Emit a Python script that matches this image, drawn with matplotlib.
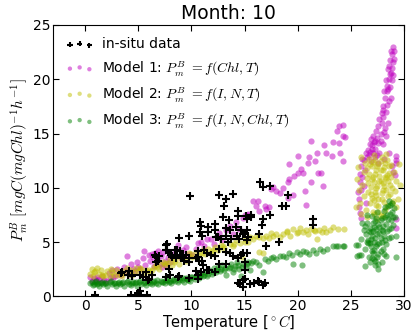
import matplotlib
matplotlib.use('Agg')
import matplotlib.pyplot as plt

# in-situ observations (temperature, P_m^B)
insitu_t = [0.9, 4.3, 5.0, 5.1, 5.15, 5.8, 3.4, 3.5, 4.1, 4.0, 4.4, 4.45, 5.15, 5.4, 5.7, 5.95,
            6.0, 6.3, 6.6, 6.7, 6.7, 6.9, 6.95, 7.6, 7.6, 7.7, 7.7, 7.6, 7.9, 7.9, 8.0, 8.05,
            8.2, 8.5, 8.5, 8.55, 8.65, 8.7, 8.8, 8.8, 8.9, 9.0, 9.2, 9.3, 9.5, 9.75, 9.8, 9.8,
            9.8, 9.8, 9.9, 10.4, 10.4, 10.6, 10.6, 10.6, 10.6, 10.75, 10.8, 10.8, 10.9, 10.9,
            11.0, 11.0, 11.1, 11.2, 11.5, 11.5, 11.6, 11.6, 11.7, 11.85, 12.2, 12.2, 12.2, 12.2,
            12.3, 12.5, 12.6, 12.6, 12.6, 12.8, 12.95, 13.1, 13.3, 13.3, 13.3, 13.3, 13.3, 13.4,
            13.5, 13.6, 13.6, 13.7, 13.9, 13.9, 14.2, 14.3, 14.4, 14.4, 14.4, 14.4, 14.5, 14.6,
            14.7, 14.7, 14.85, 14.85, 14.85, 14.9, 15.0, 15.0, 15.0, 15.0, 15.1, 15.2, 15.2,
            15.2, 15.2, 15.3, 15.5, 15.6, 15.6, 15.9, 16.3, 16.35, 16.4, 16.5, 16.6, 16.7, 16.7,
            16.7, 16.9, 17.0, 17.4, 17.4, 18.2, 18.5, 18.9, 19.1, 21.4, 21.4]
insitu_p = [0.15, 0.1, 0.3, 0.1, 0.45, 0.1, 2.15, 2.2, 2.35, 1.95, 1.85, 1.95, 1.95, 1.75, 2.2, 1.55,
            1.6, 2.0, 3.8, 3.6, 3.2, 3.25, 3.7, 4.7, 4.25, 4.8, 4.3, 1.75, 3.95, 2.55, 2.0, 3.85,
            3.6, 4.3, 3.8, 3.5, 4.3, 1.8, 5.4, 1.85, 4.2, 3.75, 3.7, 3.3, 3.85, 1.65, 5.6, 3.2,
            3.5, 1.7, 9.25, 3.55, 2.3, 3.6, 4.15, 1.6, 1.95, 3.3, 6.85, 5.9, 6.5, 2.25,
            5.55, 3.3, 2.9, 4.25, 2.4, 3.95, 6.4, 5.9, 2.4, 3.8, 6.7, 6.1, 3.7, 2.2,
            5.5, 5.5, 9.3, 4.4, 3.0, 5.3, 7.35, 8.3, 9.0, 6.3, 5.6, 4.1, 3.0, 5.0,
            7.0, 6.1, 3.95, 5.3, 9.4, 3.7, 6.4, 5.6, 7.9, 7.4, 3.55, 1.2, 5.3, 1.1,
            6.1, 3.8, 3.95, 5.7, 0.9, 1.5, 5.8, 3.2, 2.45, 1.6, 7.4, 7.15, 5.2,
            3.95, 6.1, 5.5, 1.15, 7.5, 7.3, 1.2, 1.4, 5.7, 1.3, 10.5, 6.55, 7.1, 10.1,
            1.05, 1.25, 4.6, 10.2, 7.5, 5.0, 8.3, 8.3, 9.3, 7.15, 6.6]

# Model 1: P_m^B = f(Chl, T)
m1_t = [0.5, 0.6, 0.85, 1.0, 1.3, 1.4, 1.6, 1.8, 2.2, 2.3, 2.55, 2.8, 3.0, 3.2, 3.65, 3.9,
        3.96, 4.3, 4.5, 4.9, 5.0, 5.4, 5.5, 5.6, 6.0, 6.1, 6.3, 6.4, 6.5, 6.6, 6.8, 6.9,
        7.0, 7.1, 7.2, 7.3, 7.5, 7.6, 7.8, 8.0, 8.3, 8.7, 9.0, 9.2, 9.5, 9.8, 10.1, 10.4,
        10.6, 10.9, 11.2, 11.5, 11.85, 12.1, 12.4, 12.6, 12.9, 13.3, 13.6, 13.9, 14.2, 14.5,
        14.9, 15.2, 15.3, 15.0, 15.8, 16.1, 16.3, 16.4, 16.9, 17.0, 17.3, 17.5, 17.7, 18.0,
        18.3, 18.6, 19.1, 19.1, 19.2, 19.6, 19.7, 19.2, 20.0, 20.0, 20.3, 20.5, 20.7, 20.8,
        21.0, 21.1, 21.3, 21.3, 21.6, 21.8, 21.9, 22.2, 22.4, 22.5, 22.7, 23.2, 23.3, 23.7,
        23.9, 23.9, 24.0, 24.3, 24.3, 24.3, 24.5,
        25.7, 25.8, 26.0, 26.0, 26.2, 25.9, 26.1, 25.8, 29.3, 29.3, 29.3, 29.3, 29.0,
        26.1, 26.5, 26.6, 26.8, 26.9, 27.1, 27.1, 27.3, 27.4, 27.6, 27.7, 27.7, 27.9, 28.05,
        28.2, 28.4, 28.4, 28.6, 28.8, 28.5, 29.0, 28.7, 28.8, 29.0, 29.3, 27.0, 27.2, 27.5,
        27.8, 27.5, 28.0, 28.2, 27.9, 28.3, 28.6, 28.1, 28.7, 28.3, 28.9, 29.0, 28.6, 29.1,
        28.9, 26.7, 27.3, 26.4, 26.9, 27.6, 28.1, 28.6, 27.8, 28.3, 28.5, 28.0,
        26.3, 26.2, 26.0, 25.9, 26.4, 25.9, 28.9, 29.2, 27.0, 27.6, 28.1, 28.0, 28.4, 28.5,
        28.7, 28.9, 27.3, 26.8, 28.8, 29.1, 1.1, 2.0, 2.6, 3.4, 4.1, 4.7, 5.2]
m1_p = [1.8, 1.45, 1.65, 1.5, 1.6, 1.35, 1.9, 1.55, 2.15, 1.7, 2.4, 1.9, 2.55, 2.1, 2.7, 2.3,
        3.7, 3.0, 2.5, 3.2, 2.7, 3.5, 4.15, 2.9, 3.8, 3.3, 3.9, 3.6, 2.8, 4.0, 3.4, 4.2,
        3.0, 3.7, 2.7, 4.1, 3.3, 2.8, 3.6, 3.2, 3.9, 4.7, 3.5, 4.3, 4.55, 3.9, 3.8, 4.4,
        4.9, 5.0, 4.6, 5.3, 5.3, 4.8, 5.6, 5.8, 5.2, 6.1, 6.5, 5.7, 6.85, 6.2,
        7.2, 7.45, 7.6, 7.45, 8.8, 8.35, 8.8, 7.9, 8.35, 8.05, 8.2, 9.9, 10.05, 9.75,
        9.55, 10.0, 10.5, 9.1, 10.8, 9.3, 11.1, 12.2, 11.4, 12.9, 11.7, 11.4, 9.75, 8.4,
        12.3, 12.8, 14.3, 10.5, 12.5, 13.25, 11.4, 11.4, 10.2, 13.95, 13.25, 12.9, 14.2, 15.2,
        14.1, 15.7, 13.25, 12.5, 15.8, 14.8, 14.7,
        9.6, 9.0, 7.2, 12.0, 12.6, 10.5, 11.0, 8.2, 12.6, 12.3, 6.3, 7.15, 11.5,
        12.7, 12.8, 13.5, 14.0, 14.5, 14.8, 13.25, 13.55, 15.25, 15.7, 13.25, 16.3, 16.9, 17.55,
        18.3, 18.9, 19.35, 20.0, 20.6, 20.9, 21.6, 21.8, 22.6, 22.95, 12.9, 13.9, 14.2, 14.6,
        15.0, 13.0, 14.0, 15.5, 16.0, 17.0, 18.0, 18.9, 19.3, 19.9, 19.9, 20.4, 21.2, 21.9,
        22.3, 13.0, 12.8, 13.2, 12.5, 12.3, 12.7, 13.2, 14.3, 14.8, 16.0, 17.2,
        11.6, 10.2, 9.8, 11.3, 8.6, 7.7, 12.0, 11.2, 13.6, 14.1, 15.1, 16.5, 17.6, 19.1,
        20.5, 21.0, 14.3, 13.3, 18.3, 22.6, 1.75, 1.45, 1.8, 2.0, 2.1, 2.3, 2.5]

# Model 2: P_m^B = f(I, N, T)
m2_t = [0.5, 0.6, 0.7, 0.9, 1.1, 1.3, 1.5, 1.7, 1.9, 2.1, 2.3, 2.5, 2.7, 2.9, 3.1, 3.3,
        3.5, 3.7, 3.9, 4.1, 4.3, 4.6, 4.8, 5.0, 5.3, 5.5, 5.7, 6.0, 6.3, 6.5, 6.7, 6.95,
        7.1, 7.3, 7.5, 7.8, 8.0, 8.2, 8.5, 8.8, 9.2, 9.5, 9.8, 10.1, 10.4, 10.7, 11.1, 11.3,
        11.6, 11.9, 12.2, 12.5, 12.8, 13.1, 13.6, 13.9, 14.2, 14.6, 15.0, 15.3, 15.5, 15.8,
        16.1, 16.4, 16.7, 17.0, 17.3, 17.7, 18.0, 18.3, 18.6, 19.0, 19.3, 19.6, 19.9, 20.2,
        20.5, 20.8, 21.0, 21.3, 21.6, 21.8, 22.0, 22.3, 22.7, 23.0, 23.3, 23.8, 24.4, 16.4,
        16.7, 14.8,
        25.6, 25.7, 25.8, 25.9, 26.0, 26.1, 26.2, 26.2, 26.3, 26.4, 26.5, 26.6, 26.7, 26.7,
        26.8, 26.9, 27.0, 27.0, 27.1, 27.1, 27.2, 27.3, 27.3, 27.4, 27.4, 27.5, 27.6, 27.6,
        27.7, 27.8, 27.8, 27.9, 27.9, 28.0, 28.1, 28.1, 28.2, 28.3, 28.4, 28.4, 28.5, 28.6,
        28.7, 28.8, 28.9, 29.0, 29.1, 29.2, 29.3, 29.4, 29.5, 29.6, 26.5, 27.5, 28.0, 29.3,
        27.2, 28.3, 26.0, 25.5,
        26.5, 26.6, 26.8, 26.9, 27.0, 27.1, 27.2, 27.3, 27.4, 27.5, 27.6, 27.7, 27.8, 27.9,
        28.0, 28.1, 28.2, 28.3, 28.4, 28.5, 28.6, 28.7, 28.8, 28.9, 27.2, 27.6, 28.0, 27.4,
        27.8, 28.2, 0.8, 1.6, 2.4, 3.4, 4.4, 5.2, 6.1, 6.8, 7.6, 8.4, 9.0, 10.0, 11.0, 12.0,
        13.0, 14.0, 15.0, 17.5, 19.0, 20.0, 21.5, 22.5]
m2_p = [2.1, 2.5, 1.9, 2.3, 2.6, 2.1, 2.4, 1.85, 1.95, 2.3, 1.9, 2.2, 2.0, 2.4, 1.95, 2.2,
        1.9, 2.3, 2.6, 2.1, 2.4, 2.2, 2.6, 2.3, 2.5, 2.1, 2.4, 2.4, 2.4, 2.7, 2.9, 2.55,
        3.0, 3.2, 2.9, 3.1, 3.4, 2.9, 3.35, 3.0, 3.6, 3.3, 3.95, 3.6, 4.1, 3.8, 4.25, 3.9,
        4.4, 4.1, 4.55, 4.3, 4.7, 4.5, 4.85, 4.6, 5.15, 4.9, 5.3, 5.0, 5.5, 5.3,
        5.6, 5.5, 5.35, 5.6, 5.4, 5.55, 5.7, 5.5, 5.7, 5.9, 5.6, 6.25, 5.8, 6.3,
        5.9, 6.1, 5.7, 6.25, 6.0, 5.3, 6.1, 5.9, 5.95, 6.1, 6.4, 6.25, 6.25, 4.1,
        3.95, 3.6,
        10.8, 11.9, 9.8, 8.6, 7.6, 10.3, 11.5, 9.2, 12.3, 8.0, 10.9, 9.6, 12.7, 11.3,
        8.6, 10.1, 12.0, 9.1, 11.0, 7.8, 10.5, 12.6, 9.6, 11.6, 8.4, 10.2, 12.2, 9.0,
        11.1, 7.5, 10.6, 12.8, 9.5, 11.6, 8.7, 10.2, 12.3, 9.8, 11.2, 8.3, 10.6, 12.0,
        9.4, 11.0, 10.0, 8.8, 11.5, 9.7, 10.6, 9.0, 12.2, 10.3, 7.3, 7.1, 7.4, 8.2,
        13.0, 13.1, 12.8, 8.2,
        11.8, 10.4, 12.2, 9.4, 10.8, 12.4, 8.9, 11.3, 10.0, 12.0, 8.3, 10.6, 12.5, 9.0,
        10.4, 11.9, 8.0, 10.9, 12.6, 9.2, 11.4, 10.3, 12.1, 8.6, 7.6, 7.8, 9.8, 9.3,
        11.6, 11.0, 2.2, 2.0, 2.5, 2.1, 2.0, 2.6, 2.2, 2.7, 3.1, 3.2, 3.5, 3.9, 4.0, 4.3,
        4.6, 4.8, 5.0, 5.8, 6.0, 5.9, 6.1, 6.3]

# Model 3: P_m^B = f(I, N, Chl, T)
m3_t = [0.5, 0.7, 0.9, 1.1, 1.3, 1.5, 1.7, 1.9, 2.1, 2.3, 2.5, 2.7, 2.9, 3.1, 3.3, 3.5,
        3.7, 3.9, 4.1, 4.3, 4.5, 4.7, 4.9, 5.1, 5.3, 5.5, 5.7, 5.9, 6.1, 6.3, 6.5, 6.7,
        6.9, 7.1, 7.3, 7.5, 7.7, 7.9, 8.1, 8.3, 8.5, 8.7, 8.9, 9.1, 9.3, 9.5, 9.7, 9.9,
        10.1, 10.3, 10.5, 10.7, 10.9, 11.1, 11.3, 11.5, 11.7, 11.9, 12.1, 12.3, 12.5, 12.7,
        12.9, 13.1, 13.3, 13.5, 13.7, 13.9, 14.1, 14.3, 14.5, 14.7, 14.9, 15.1, 15.3, 15.5,
        15.8, 16.1, 16.4, 16.7, 16.9, 17.2, 17.5, 17.7, 18.0, 18.3, 18.6, 18.9, 19.2, 19.5,
        19.6, 19.9, 20.2, 20.4, 20.5, 20.8, 21.1, 21.4, 21.7, 22.1, 22.4, 22.8, 23.3, 23.6,
        23.8, 24.3, 24.4,
        25.6, 25.7, 26.0, 26.3, 26.8, 29.3, 28.8, 29.3, 26.0, 26.2, 26.3, 26.4, 26.5, 26.6,
        26.7, 26.8, 26.9, 27.0, 27.0, 27.1, 27.2, 27.2, 27.3, 27.4, 27.5, 27.5, 27.6, 27.7,
        27.7, 27.8, 27.9, 27.9, 28.0, 28.0, 28.1, 28.2, 28.3, 28.3, 28.4, 28.5, 28.6, 28.7,
        28.8, 28.9, 29.0, 29.1, 29.2, 27.3, 27.6, 26.5, 26.1, 25.5, 25.8,
        0.6, 0.8, 1.0, 1.2, 1.6, 2.0, 2.4, 2.8, 3.2, 3.6, 4.0, 4.4, 4.8, 5.2, 5.6, 6.0,
        6.4, 6.8, 7.2, 7.6, 8.0, 8.4, 8.8, 9.2, 9.6, 10.0, 10.4, 10.8, 11.2, 11.6, 12.0,
        12.4, 12.8, 13.2, 13.6, 14.0, 14.4, 14.8, 15.2, 15.6,
        26.6, 26.7, 26.9, 27.0, 27.1, 27.2, 27.3, 27.4, 27.5, 27.5, 27.6, 27.7, 27.8, 27.8,
        27.9, 28.0, 28.1, 28.1, 28.2, 28.3, 28.4, 28.5, 28.6, 28.7, 28.8, 28.9, 29.0, 27.3,
        27.6, 27.1, 26.8, 26.9, 27.4, 28.2, 28.6, 27.9, 27.2, 26.5, 26.3, 27.0]
m3_p = [1.2, 1.05, 1.3, 1.15, 1.0, 1.25, 1.1, 1.2, 1.0, 1.3, 1.1, 1.2, 0.95, 1.25, 1.1, 1.2,
        1.0, 1.3, 1.15, 1.05, 1.3, 1.2, 1.0, 1.3, 1.15, 1.25, 1.05, 1.35, 1.2, 1.1, 1.4, 1.25,
        1.15, 1.45, 1.3, 1.2, 1.5, 1.35, 1.25, 1.55, 1.4, 1.3, 1.65, 1.5, 1.35, 1.7, 1.55, 1.45,
        1.8, 1.6, 1.95, 1.7, 2.1, 1.85, 2.25, 1.9, 2.4, 2.05, 2.6, 2.2, 2.75, 2.3,
        2.9, 2.4, 2.0, 2.6, 3.0, 2.2, 2.8, 3.15, 2.5, 1.9, 3.0, 2.7, 3.2, 2.4,
        3.3, 3.2, 2.9, 2.25, 3.4, 3.3, 3.5, 3.6, 3.4, 3.7, 3.75, 3.6, 3.95, 3.8,
        3.0, 4.1, 3.9, 2.85, 4.2, 4.1, 3.9, 4.3, 4.0, 4.4, 4.2, 4.4, 4.65, 4.65,
        4.6, 4.65, 4.6,
        3.7, 4.7, 3.8, 2.8, 3.2, 3.6, 5.45, 5.6, 5.3, 6.1, 4.4, 5.7, 6.8, 4.9,
        3.6, 6.3, 5.3, 7.4, 4.2, 6.0, 3.4, 5.0, 6.9, 4.6, 5.7, 7.8, 3.9, 6.4,
        4.9, 5.4, 7.2, 3.2, 6.0, 4.4, 7.9, 5.2, 6.7, 3.7, 7.5, 8.3, 6.2, 8.4,
        7.0, 7.8, 6.6, 8.1, 7.3, 2.9, 2.5, 7.5, 6.8, 4.7, 3.8,
        1.35, 1.15, 1.4, 1.25, 1.35, 1.2, 1.4, 1.25, 1.35, 1.3, 1.4, 1.2, 1.35, 1.4, 1.3, 1.45,
        1.3, 1.5, 1.35, 1.55, 1.45, 1.6, 1.5, 1.7, 1.6, 1.75, 1.85, 1.9, 2.0, 2.1, 2.25,
        2.4, 2.5, 2.6, 2.75, 2.5, 2.9, 2.7, 2.95, 3.1,
        5.2, 6.0, 4.6, 5.6, 6.8, 4.3, 5.4, 6.2, 3.6, 4.8, 6.7, 5.8, 4.2, 7.0,
        5.0, 6.5, 3.9, 5.6, 7.3, 4.8, 6.0, 7.1, 5.4, 7.6, 6.3, 8.6, 7.3, 3.3,
        3.0, 4.0, 4.9, 5.9, 7.2, 8.2, 8.8, 6.1, 6.4, 5.0, 6.5, 3.5]

plt.rcParams['mathtext.fontset'] = 'cm'

fig = plt.figure(figsize=(4.16, 3.33), dpi=100)
ax = fig.add_axes([0.128, 0.11, 0.843, 0.815])

h1 = ax.scatter(m1_t, m1_p, s=20, c='m', alpha=0.5, linewidths=0,
                label='Model 1: $P_m^B$ $=f(Chl,T)$')
h2 = ax.scatter(m2_t, m2_p, s=20, c='y', alpha=0.5, linewidths=0,
                label='Model 2: $P_m^B$ $=f(I,N,T)$')
h3 = ax.scatter(m3_t, m3_p, s=20, c='g', alpha=0.5, linewidths=0,
                label='Model 3: $P_m^B$ $=f(I,N,Chl,T)$')
h0 = ax.scatter(insitu_t, insitu_p, s=30, c='k', marker='+', linewidths=1.5,
                label='in-situ data')

ax.set_xlim(-3, 30)
ax.set_ylim(0, 25)
ax.set_xticks([0, 5, 10, 15, 20, 25, 30])
ax.set_yticks([0, 5, 10, 15, 20, 25])
ax.tick_params(direction='in', top=True, right=True, labelsize=10, length=4, pad=2)

ax.set_title('Month: 10', fontsize=13.5, pad=4)
ax.set_xlabel('Temperature [$^\\circ C$]', fontsize=10.5, labelpad=0)
ax.set_ylabel('$P_m^B$ $[mgC(mgChl)^{-1}h^{-1}]$', fontsize=11, labelpad=1)

ax.legend(handles=[h0, h1, h2, h3], loc='upper left', frameon=False, fontsize=10,
          scatterpoints=3, markerscale=0.7, handletextpad=0.6, labelspacing=0.55,
          borderaxespad=0.5)

fig.savefig('out.png', dpi=100)
